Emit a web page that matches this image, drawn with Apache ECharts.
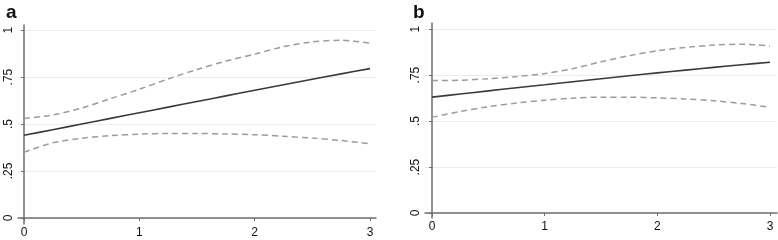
<!DOCTYPE html>
<html>
<head>
<meta charset="utf-8">
<script src="https://cdn.jsdelivr.net/npm/echarts@6/dist/echarts.min.js"></script>
<style>
  html, body { margin: 0; padding: 0; background: #fff; }
  #chart { width: 778px; height: 240px; }
</style>
</head>
<body>
<div id="chart"></div>
<script>
const xs = [0, 0.25, 0.5, 0.75, 1, 1.25, 1.5, 1.75, 2, 2.25, 2.5, 2.75, 3];

// panel a
const aFit   = [0.44, 0.47, 0.50, 0.53, 0.56, 0.59, 0.62, 0.65, 0.68, 0.709, 0.738, 0.767, 0.795];
const aUpper = [0.53, 0.548, 0.585, 0.635, 0.685, 0.74, 0.79, 0.835, 0.872, 0.912, 0.937, 0.946, 0.93];
const aLower = [0.35, 0.40, 0.424, 0.438, 0.446, 0.45, 0.45, 0.447, 0.443, 0.435, 0.425, 0.412, 0.395];

// panel b
const bFit   = [0.63, 0.647, 0.664, 0.681, 0.697, 0.714, 0.730, 0.746, 0.762, 0.777, 0.792, 0.806, 0.82];
const bUpper = [0.72, 0.722, 0.73, 0.742, 0.758, 0.785, 0.822, 0.855, 0.882, 0.90, 0.913, 0.918, 0.908];
const bLower = [0.52, 0.552, 0.578, 0.598, 0.613, 0.624, 0.63, 0.63, 0.626, 0.62, 0.61, 0.595, 0.575];

const xTicks = [0, 1, 2, 3];
const yTicks = [0, 0.25, 0.5, 0.75, 1];
const yTickText = { 0: '0', 0.25: '.25', 0.5: '.5', 0.75: '.75', 1: '1' };

const pairs = ys => xs.map((x, i) => [x, ys[i]]);

const axisColor = '#6e6e6e';
const labelColor = '#111111';
const font = 'Liberation Sans, Arial, sans-serif';

function xAxisFor(gridIndex, min, max) {
  return {
    type: 'value', gridIndex, min, max,
    axisLine: { show: true, lineStyle: { color: axisColor, width: 1.5 } },
    axisTick: { show: true, length: 3, customValues: xTicks, lineStyle: { color: axisColor } },
    axisLabel: { customValues: xTicks, color: labelColor, fontSize: 12, fontFamily: font, margin: 3 },
    splitLine: { show: false }
  };
}

function yAxisFor(gridIndex, min, max) {
  return {
    type: 'value', gridIndex, min, max,
    axisLine: { show: true, lineStyle: { color: axisColor, width: 1.5 } },
    axisTick: { show: true, length: 3, customValues: yTicks, lineStyle: { color: axisColor } },
    axisLabel: {
      customValues: yTicks, rotate: 90, color: labelColor, fontSize: 12,
      fontFamily: font, margin: 3,
      formatter: v => yTickText[v] !== undefined ? yTickText[v] : ''
    },
    splitLine: { show: true, lineStyle: { color: '#e6eef1', width: 1 } }
  };
}

function lineSeries(name, idx, data, dashed) {
  return {
    name, type: 'line', xAxisIndex: idx, yAxisIndex: idx,
    data: pairs(data), smooth: 0.3, showSymbol: false, symbol: 'none',
    silent: true,
    lineStyle: dashed
      ? { color: '#9c9c9c', width: 1.5, type: [6, 4] }
      : { color: '#3a3a3a', width: 1.6 }
  };
}

const chart = echarts.init(document.getElementById('chart'), null, { renderer: 'canvas' });

chart.setOption({
  animation: false,
  backgroundColor: '#ffffff',
  title: [
    { text: 'a', left: 1, top: -2, textStyle: { fontSize: 19, fontWeight: 'bold', color: '#111', fontFamily: font } },
    { text: 'b', left: 408, top: -2, textStyle: { fontSize: 19, fontWeight: 'bold', color: '#111', fontFamily: font } }
  ],
  grid: [
    { left: 18, top: 25, width: 358, height: 199, containLabel: false },
    { left: 425, top: 23, width: 352, height: 195, containLabel: false }
  ],
  xAxis: [
    xAxisFor(0, -0.052, 3.052),
    xAxisFor(1, -0.062, 3.062)
  ],
  yAxis: [
    yAxisFor(0, -0.032, 1.027),
    yAxisFor(1, -0.027, 1.033)
  ],
  series: [
    lineSeries('a fit', 0, aFit, false),
    lineSeries('a upper', 0, aUpper, true),
    lineSeries('a lower', 0, aLower, true),
    lineSeries('b fit', 1, bFit, false),
    lineSeries('b upper', 1, bUpper, true),
    lineSeries('b lower', 1, bLower, true)
  ]
});
</script>
</body>
</html>
